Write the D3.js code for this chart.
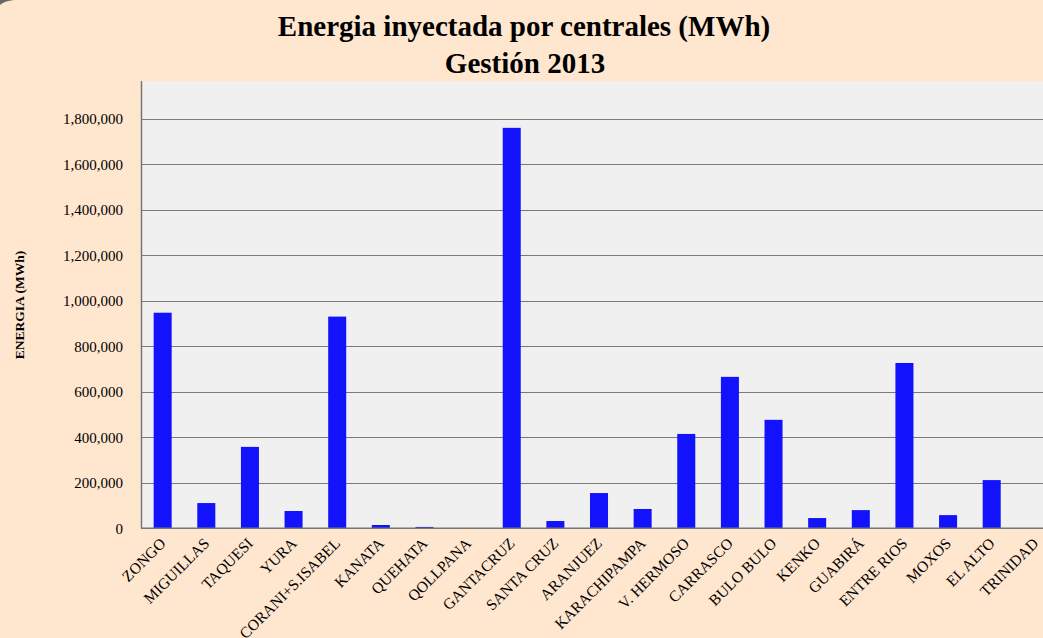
<!DOCTYPE html>
<html>
<head>
<meta charset="utf-8">
<script src="https://cdn.jsdelivr.net/npm/d3@7"></script>
<style>
  body { margin: 0; background: #ffe6cf; overflow: hidden; }
  text { font-family: "Liberation Serif", "DejaVu Serif", serif; fill: #000; }
</style>
</head>
<body>
<div id="vis"></div>
<script>
// centrales and energia inyectada (MWh)
var centrales = ["ZONGO", "MIGUILLAS", "TAQUESI", "YURA", "CORANI+S.ISABEL", "KANATA",
  "QUEHATA", "QOLLPANA", "GANTACRUZ", "SANTA CRUZ", "ARANJUEZ", "KARACHIPAMPA",
  "V. HERMOSO", "CARRASCO", "BULO BULO", "KENKO", "GUABIRÁ", "ENTRE RIOS", "MOXOS",
  "EL ALTO", "TRINIDAD"];
var energia = [948000, 111000, 358000, 76000, 931000, 14500, 6000, 0, 1761000, 32000,
  155000, 85000, 415000, 666000, 477000, 45000, 80000, 727000, 58000, 212000, 0];
var yTicks = [0, 200000, 400000, 600000, 800000, 1000000, 1200000, 1400000, 1600000, 1800000];

var W = 1043, H = 638;
var svg = d3.select("#vis").append("svg")
    .attr("width", W)
    .attr("height", H);

// grey corner at the top left
svg.append("path")
    .attr("d", "M0,0 L14,0 Q4,1 0,5 Z")
    .attr("fill", "#666");

// plot area runs past the right edge of the picture
var margin = {top: 81, left: 141},
    plotW = 916,
    plotH = 528.3 - margin.top;

var g = svg.append("g").attr("transform", "translate(" + margin.left + "," + margin.top + ")");

var x = d3.scaleBand()
    .domain(centrales)
    .range([0, plotW])
    .paddingInner(0.587)
    .paddingOuter(0.29);

var y = d3.scaleLinear()
    .domain([0, 1967000])
    .range([plotH, 0]);

g.append("rect")
    .attr("width", plotW)
    .attr("height", plotH)
    .attr("fill", "#f0f0f0");

// gridlines
g.append("g")
    .selectAll("line")
    .data(yTicks.slice(1))
    .enter().append("line")
      .attr("x1", 0)
      .attr("x2", plotW)
      .attr("y1", function(d) { return Math.round(y(d)) + 0.5; })
      .attr("y2", function(d) { return Math.round(y(d)) + 0.5; })
      .attr("stroke", "#7a7a7a")
      .attr("stroke-width", 1.2);

g.append("g")
    .selectAll("rect")
    .data(energia)
    .enter().append("rect")
      .attr("x", function(d, i) { return x(centrales[i]); })
      .attr("y", function(d) { return y(d); })
      .attr("width", x.bandwidth())
      .attr("height", function(d) { return plotH - y(d); })
      .attr("fill", "#1212fc");

// y axis
var yAxis = g.append("g")
    .call(d3.axisLeft(y).tickValues(yTicks).tickSize(0).tickPadding(18)
      .tickFormat(d3.format(",")));
yAxis.select(".domain").remove();
yAxis.selectAll("text")
    .style("font-family", "Liberation Serif, serif")
    .style("font-size", "15px")
    .attr("fill", "#000");

// axis lines
g.append("line")
    .attr("x1", 0.5).attr("x2", 0.5)
    .attr("y1", 0).attr("y2", plotH)
    .attr("stroke", "#777").attr("stroke-width", 1.5);
g.append("line")
    .attr("x1", 0).attr("x2", plotW)
    .attr("y1", plotH).attr("y2", plotH)
    .attr("stroke", "#777").attr("stroke-width", 1.5);

// x labels, rotated
g.append("g")
    .selectAll("text")
    .data(centrales)
    .enter().append("text")
      .attr("transform", function(d) {
        return "translate(" + (x(d) + x.bandwidth() / 2 + 4) + "," + (plotH + 16) + ") rotate(-45)";
      })
      .attr("text-anchor", "end")
      .style("font-size", "15.5px")
      .text(function(d) { return d; });

// y axis title
svg.append("text")
    .attr("transform", "translate(24,305) rotate(-90)")
    .attr("text-anchor", "middle")
    .style("font-size", "13.5px")
    .style("font-weight", "bold")
    .text("ENERGIA (MWh)");

// title
var title = svg.append("text")
    .attr("text-anchor", "middle")
    .style("font-size", "29px")
    .style("font-weight", "bold");
title.append("tspan").attr("x", 524).attr("y", 36).text("Energia inyectada por centrales (MWh)");
title.append("tspan").attr("x", 525).attr("y", 73).text("Gestión 2013");
</script>
</body>
</html>
